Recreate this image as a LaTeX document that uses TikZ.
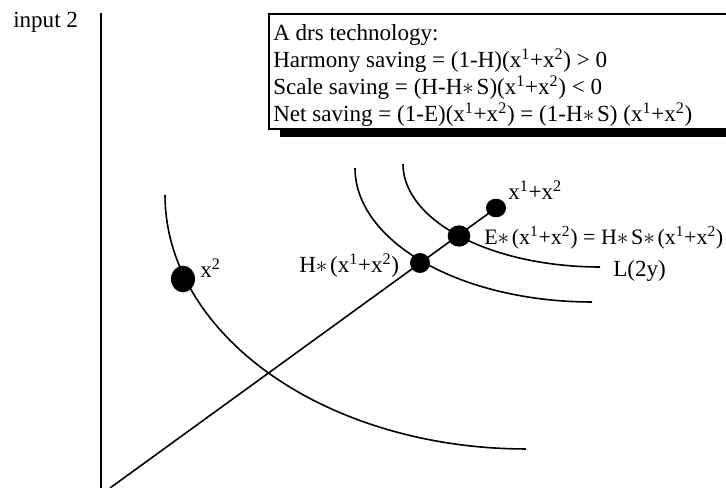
\documentclass[tikz,border=0pt]{standalone}
\usepackage{fontspec}
\setmainfont{Liberation Serif}
\usetikzlibrary{shapes.geometric}
\newcommand{\mst}{$\ast$\hspace{0.12em}}
\newcommand{\xs}{(x\textsuperscript{1}+x\textsuperscript{2})}
\begin{document}
\begin{tikzpicture}[x=0.75pt,y=-0.75pt,
  lbl/.style={inner sep=0pt, anchor=base west, font=\fontsize{17.3}{20.25}\selectfont},
  curve/.style={line width=1.2pt},
  dot/.style={ellipse, fill=black, inner sep=0pt},
  axisline/.style={line width=1.1pt}]
\useasboundingbox (0,0) rectangle (726,488);
% axis
\coordinate (axtop) at (101,13);
\coordinate (axbot) at (101,488);
\draw[axisline] (axtop) -- (axbot);
\node[lbl] (inp) at (13,28) {input 2};
% box
\fill[black] (280,129) rectangle (726,137);
\draw[line width=1.4pt] (728,14) -- (269,14) -- (269,129) -- (728,129);
\node[lbl] (t1) at (273,41) {A drs technology:};
\node[lbl] (t2) at (273,68) {Harmony saving = (1-H)\xs{} > 0};
\node[lbl] (t3) at (273,95) {Scale saving = (H-H\mst S)\xs{} < 0};
\node[lbl] (t4) at (273,122) {Net saving = (1-E)\xs{} = (1-H\mst S) \xs};
% curves
\draw[curve] plot[domain=180:90, samples=60] ({526+361*cos(\x)}, {195+254*sin(\x)});
\draw[curve] plot[domain=180:90, samples=60] ({592+237*cos(\x)}, {168+134*sin(\x)});
\draw[curve] plot[domain=180:90, samples=60] ({600+197*cos(\x)}, {164+103*sin(\x)});
% dots
\node[dot, minimum width=18pt, minimum height=20pt] (dx2) at (183,279) {};
\node[dot, minimum width=15pt, minimum height=15pt] (dH) at (420,263) {};
\node[dot, minimum width=17pt, minimum height=16pt] (dE) at (459,236) {};
\node[dot, minimum width=15pt, minimum height=14pt] (dT) at (496,208) {};
% ray
\coordinate (orig) at (110,488);
\draw[curve] (orig) -- (dT.center);
% labels
\node[lbl] (lx2) at (200,278) {x\textsuperscript{2}};
\node[lbl] (lH) at (299,273) {H\mst\xs};
\node[lbl] (lT) at (508,200) {x\textsuperscript{1}+x\textsuperscript{2}};
\node[lbl, font=\fontsize{16.5}{20}\selectfont] (lE) at (484,245) {E\mst\xs{} = H\mst S\mst\xs};
\node[lbl] (lL) at (613,277) {L(2y)};
\end{tikzpicture}
\end{document}
